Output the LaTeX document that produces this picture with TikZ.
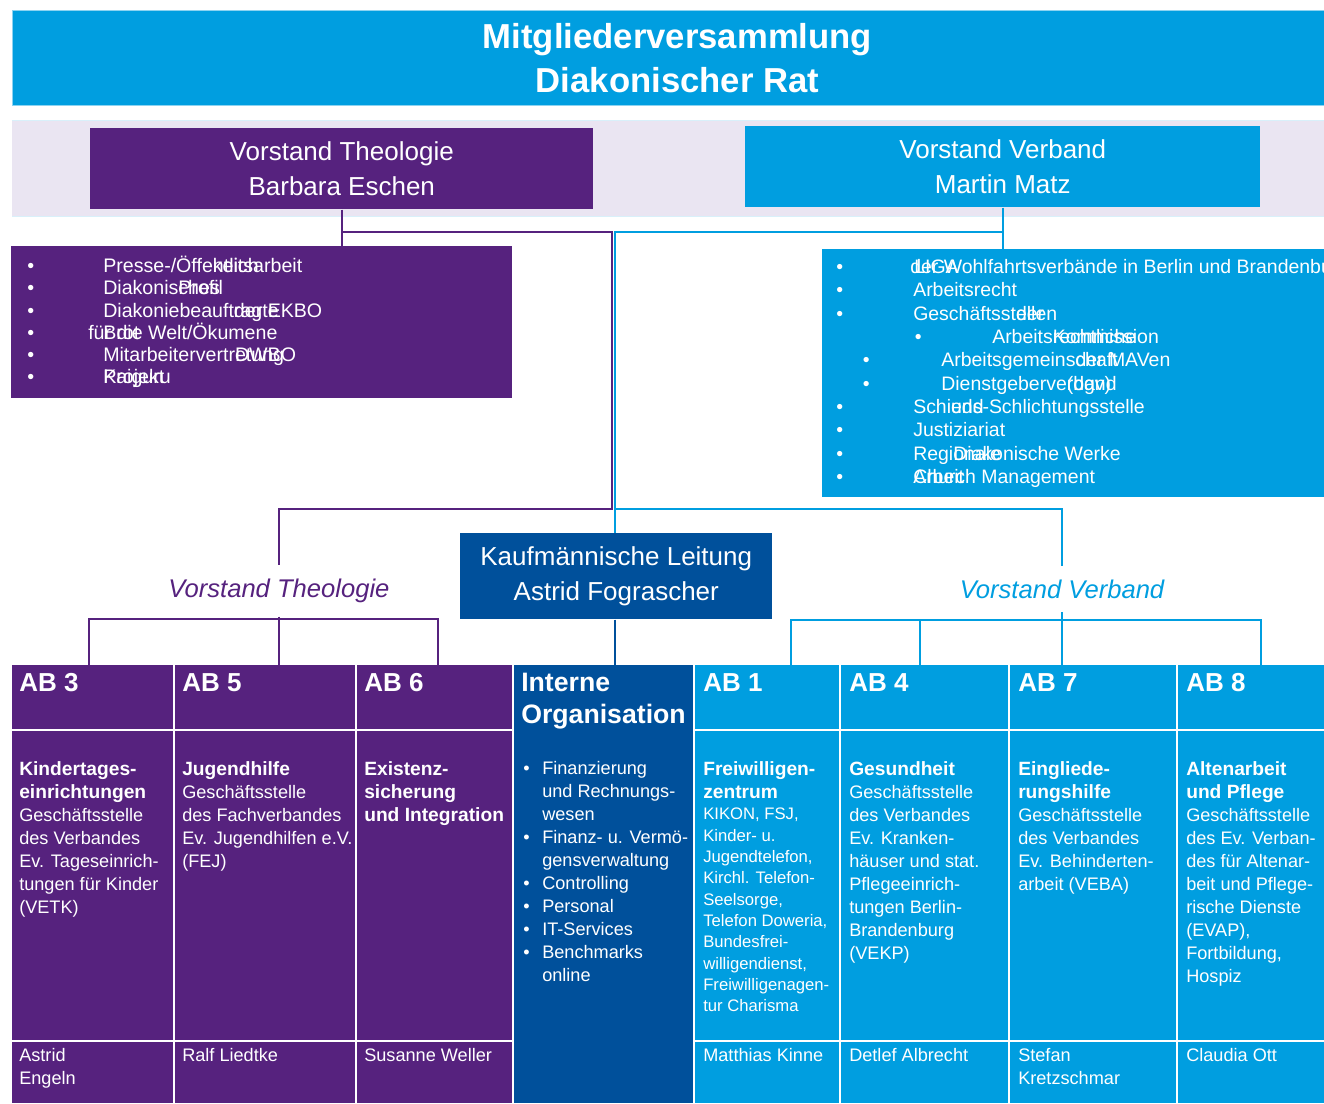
\documentclass[tikz,border=0pt]{standalone}
\usepackage{fontspec}
\setmainfont{Liberation Sans}
\usepackage{xcolor}
\usetikzlibrary{positioning}
\definecolor{dwpurple}{RGB}{86,34,126}
\definecolor{dwblue}{RGB}{0,158,224}
\definecolor{dwdark}{RGB}{0,80,155}
\definecolor{dwlav}{RGB}{234,229,242}
\newcommand\ovtxt[3]{\rlap{#1}\hphantom{#2}#3}
\newcommand\bul[1]{\makebox[#1][l]{•}}
\newcommand\abt[1]{{\fontsize{14.4pt}{17.25pt}\selectfont\bfseries #1}}

\begin{document}
\begin{tikzpicture}[x=0.75pt, y=-0.75pt,
    dims/.style 2 args={minimum width=#1*0.75pt, minimum height=#2*0.75pt},
    box/.style={fill=#1, text=white, inner sep=0, align=center, anchor=north west},
    cell/.style={fill=#1, inner sep=0, anchor=north west},
    abhead/.style={text=white, font=\fontsize{19.5pt}{24pt}\selectfont\bfseries, align=left, anchor=north west, inner sep=0},
    abtext/.style={text=white, font=\fontsize{13.6pt}{17.25pt}\selectfont, align=left, anchor=north west, inner sep=0},
    listtxt/.style={text=white, align=left, anchor=north west, inner sep=0},
    lab/.style={text=#1, font=\fontsize{19.2pt}{23pt}\selectfont\itshape, inner sep=10pt},
    lnp/.style={dwpurple, line width=1.5pt},
    lnb/.style={dwblue, line width=1.5pt},
    lnd/.style={dwdark, line width=1.5pt}]
    \useasboundingbox (0,0) rectangle (1324,1103);

    % Kopf
    \node[box=dwblue, dims={1330}{95}, draw=dwblue!45, line width=0.75pt,
        font=\fontsize{26pt}{33pt}\selectfont\bfseries] (mv) at (12,10) {Mitgliederversammlung\\Diakonischer Rat};
    \fill[dwlav] (12,120) rectangle (1324,216);
    \draw[dwblue!15, line width=0.75pt] (12,120) -- (1324,120) (12,216) -- (1324,216);

    % Vorstaende
    \node[box=dwpurple, dims={503}{81}, font=\fontsize{19.5pt}{26.25pt}\selectfont] (vt) at (90,128) {Vorstand Theologie\\Barbara Eschen};
    \node[box=dwblue, dims={515}{81}, font=\fontsize{19.5pt}{26.25pt}\selectfont] (vv) at (745,126) {Vorstand Verband\\Martin Matz};

    % Stabsstellen
    \node[cell=dwpurple, dims={501}{152}] (vtlist) at (11,246) {};
    \node[listtxt, font=\fontsize{14.7pt}{16.65pt}\selectfont] (vtlist-txt) at (27,256) {%
        \bul{57pt}\ovtxt{Presse-/Öffentlich}{Presse-/Öffe}{keitsarbeit}\\
        \bul{57pt}\ovtxt{Diakonisches}{Diakonis}{Profil}\\
        \bul{57pt}\ovtxt{Diakoniebeauftragte}{Diakoniebeauft}{der EKBO}\\
        \bul{45.75pt}\rlap{für die Welt/Ökumene}\hspace*{11.25pt}Brot\\
        \bul{57pt}\ovtxt{Mitarbeitervertretung}{Mitarbeitervertr}{DWBO}\\
        \bul{57pt}\ovtxt{Projekt}{}{Kaiguru}};

    \node[cell=dwblue, dims={502}{248}] (vvlist) at (822,249) {};
    \begin{scope}
        \clip (vvlist.north west) rectangle (vvlist.south east);
        \node[listtxt, font=\fontsize{14.6pt}{17.5pt}\selectfont] (vvlist-txt) at (836,259) {%
            \bul{57.75pt}\hspace*{-2.25pt}\rlap{der Wohlfahrtsverbände in Berlin und Brandenburg}\hspace*{3pt}LIGA\\
            \bul{57.75pt}Arbeitsrecht\\
            \bul{57.75pt}\ovtxt{Geschäftsstellen}{Geschäftsst}{der}\\
            \hspace*{59pt}\bul{58pt}\ovtxt{Arbeitsrechtliche}{Arbeits}{Kommission}\\
            \hspace*{20pt}\bul{58.8pt}\ovtxt{Arbeitsgemeinschaft}{Arbeitsgemeins}{der MAVen}\\
            \hspace*{20pt}\bul{58.8pt}\ovtxt{Dienstgeberverband}{Dienstgeberve}{(dgv)}\\
            \bul{57.75pt}\ovtxt{Schieds-}{Schi}{und Schlichtungsstelle}\\
            \bul{57.75pt}Justiziariat\\
            \bul{57.75pt}\ovtxt{Regionale}{Regi}{Diakonische Werke}\\
            \bul{57.75pt}\ovtxt{Church Management}{}{Arbeit}};
    \end{scope}

    % Kaufmaennische Leitung und Zuordnung
    \node[box=dwdark, dims={312}{86}, font=\fontsize{19.5pt}{26.25pt}\selectfont] (kl) at (460,533) {Kaufmännische Leitung\\Astrid Fograscher};
    \node[lab=dwpurple] (vtlab) at (279,591) {Vorstand Theologie};
    \node[lab=dwblue] (vvlab) at (1062,589) {Vorstand Verband};

    % Arbeitsbereiche: Kopf, Inhalt, Leitung
    \node[cell=dwpurple, dims={161}{64}] (ab3h) at (12,665) {};
    \node[cell=dwpurple, dims={161}{309}] (ab3b) at (12,731) {};
    \node[cell=dwpurple, dims={161}{61}] (ab3n) at (12,1042) {};
    \node[cell=dwpurple, dims={180}{64}] (ab5h) at (175,665) {};
    \node[cell=dwpurple, dims={180}{309}] (ab5b) at (175,731) {};
    \node[cell=dwpurple, dims={180}{61}] (ab5n) at (175,1042) {};
    \node[cell=dwpurple, dims={155}{64}] (ab6h) at (357,665) {};
    \node[cell=dwpurple, dims={155}{309}] (ab6b) at (357,731) {};
    \node[cell=dwpurple, dims={155}{61}] (ab6n) at (357,1042) {};
    \node[cell=dwdark, dims={179}{438}] (io) at (514,665) {};
    \node[cell=dwblue, dims={144}{64}] (ab1h) at (695,665) {};
    \node[cell=dwblue, dims={144}{309}] (ab1b) at (695,731) {};
    \node[cell=dwblue, dims={144}{61}] (ab1n) at (695,1042) {};
    \node[cell=dwblue, dims={167}{64}] (ab4h) at (841,665) {};
    \node[cell=dwblue, dims={167}{309}] (ab4b) at (841,731) {};
    \node[cell=dwblue, dims={167}{61}] (ab4n) at (841,1042) {};
    \node[cell=dwblue, dims={166}{64}] (ab7h) at (1010,665) {};
    \node[cell=dwblue, dims={166}{309}] (ab7b) at (1010,731) {};
    \node[cell=dwblue, dims={166}{61}] (ab7n) at (1010,1042) {};
    \node[cell=dwblue, dims={146}{64}] (ab8h) at (1178,665) {};
    \node[cell=dwblue, dims={146}{309}] (ab8b) at (1178,731) {};
    \node[cell=dwblue, dims={146}{61}] (ab8n) at (1178,1042) {};

    \node[abhead] (ab3-t) at ([shift={(7,8)}]ab3h.north west) {AB 3};
    \node[abhead] (ab5-t) at ([shift={(7,8)}]ab5h.north west) {AB 5};
    \node[abhead] (ab6-t) at ([shift={(7,8)}]ab6h.north west) {AB 6};
    \node[abhead, font=\fontsize{20pt}{24pt}\selectfont\bfseries] (io-t) at ([shift={(7,8)}]io.north west) {Interne\\Organisation};
    \node[abhead] (ab1-t) at ([shift={(8,8)}]ab1h.north west) {AB 1};
    \node[abhead] (ab4-t) at ([shift={(8,8)}]ab4h.north west) {AB 4};
    \node[abhead] (ab7-t) at ([shift={(8,8)}]ab7h.north west) {AB 7};
    \node[abhead] (ab8-t) at ([shift={(8,8)}]ab8h.north west) {AB 8};

    \node[abtext] (ab3-x) at ([shift={(7,30)}]ab3b.north west) {\abt{Kindertages-}\\\abt{einrichtungen}\\Geschäftsstelle\\des Verbandes\\Ev. Tageseinrich-\\tungen für Kinder\\(VETK)};
    \node[abtext] (ab5-x) at ([shift={(7,30)}]ab5b.north west) {\abt{Jugendhilfe}\\Geschäftsstelle\\des Fachverbandes\\Ev. Jugendhilfen e.V.\\(FEJ)};
    \node[abtext] (ab6-x) at ([shift={(7,30)}]ab6b.north west) {\abt{Existenz-}\\\abt{sicherung}\\\abt{und Integration}};
    \node[abtext] (io-x) at ([shift={(9,96)}]io.north west) {%
        \bul{14.25pt}Finanzierung\\\hspace*{14.25pt}und Rechnungs-\\\hspace*{14.25pt}wesen\\
        \bul{14.25pt}Finanz- u. Vermö-\\\hspace*{14.25pt}gensverwaltung\\
        \bul{14.25pt}Controlling\\\bul{14.25pt}Personal\\\bul{14.25pt}IT-Services\\
        \bul{14.25pt}Benchmarks\\\hspace*{14.25pt}online};
    \node[abtext] (ab1-x) at ([shift={(8,30)}]ab1b.north west) {\abt{Freiwilligen-}\\\abt{zentrum}};
    \node[abtext, font=\fontsize{12.5pt}{16pt}\selectfont] (ab1-y) at ([shift={(8,77)}]ab1b.north west) {KIKON, FSJ,\\Kinder- u.\\Jugendtelefon,\\Kirchl. Telefon-\\Seelsorge,\\Telefon Doweria,\\Bundesfrei-\\willigendienst,\\Freiwilligenagen-\\tur Charisma};
    \node[abtext] (ab4-x) at ([shift={(8,30)}]ab4b.north west) {\abt{Gesundheit}\\Geschäftsstelle\\des Verbandes\\Ev. Kranken-\\häuser und stat.\\Pflegeeinrich-\\tungen Berlin-\\Brandenburg\\(VEKP)};
    \node[abtext] (ab7-x) at ([shift={(8,30)}]ab7b.north west) {\abt{Eingliede-}\\\abt{rungshilfe}\\Geschäftsstelle\\des Verbandes\\Ev. Behinderten-\\arbeit (VEBA)};
    \node[abtext] (ab8-x) at ([shift={(8,30)}]ab8b.north west) {\abt{Altenarbeit}\\\abt{und Pflege}\\Geschäftsstelle\\des Ev. Verban-\\des für Altenar-\\beit und Pflege-\\rische Dienste\\(EVAP),\\Fortbildung,\\Hospiz};

    \node[abtext] (ab3-n) at ([shift={(7,6)}]ab3n.north west) {Astrid\\Engeln};
    \node[abtext] (ab5-n) at ([shift={(7,6)}]ab5n.north west) {Ralf Liedtke};
    \node[abtext] (ab6-n) at ([shift={(7,6)}]ab6n.north west) {Susanne Weller};
    \node[abtext] (ab1-n) at ([shift={(8,6)}]ab1n.north west) {Matthias Kinne};
    \node[abtext] (ab4-n) at ([shift={(8,6)}]ab4n.north west) {Detlef Albrecht};
    \node[abtext] (ab7-n) at ([shift={(8,6)}]ab7n.north west) {Stefan\\Kretzschmar};
    \node[abtext] (ab8-n) at ([shift={(8,6)}]ab8n.north west) {Claudia Ott};

    % Linien
    \coordinate (tj) at (vt.south |- 0,232);
    \coordinate (tm) at (612,509);
    \coordinate (vj) at (vv.south |- 0,232);
    \coordinate (vm) at (615,509);
    \coordinate (tl) at (89,619);
    \coordinate (tr) at (438,619);
    \coordinate (vl) at (791,620);
    \coordinate (v4) at (920,620);
    \coordinate (vr) at (1261,620);

    \draw[lnp] (vt.south) -- (vt.south |- vtlist.north);
    \draw[lnp] (tj) -| (tm) -| (vtlab.north);
    \draw[lnb] (vv.south) -- (vv.south |- vvlist.north);
    \draw[lnb] (vj) -| (vm |- kl.north);
    \draw[lnb] (vm) -| (vvlab.north);
    \draw[lnd] (vm |- kl.south) -- (vm |- io.north);

    \draw[lnp] (tl |- ab3h.north) -- (tl) -- (tr) -- (tr |- ab6h.north);
    \draw[lnp] (vtlab.south) -- (vtlab.south |- ab5h.north);
    \draw[lnb] (vl |- ab1h.north) -- (vl) -- (vr) -- (vr |- ab8h.north);
    \draw[lnb] (v4) -- (v4 |- ab4h.north);
    \draw[lnb] (vvlab.south) -- (vvlab.south |- ab7h.north);
\end{tikzpicture}
\end{document}
